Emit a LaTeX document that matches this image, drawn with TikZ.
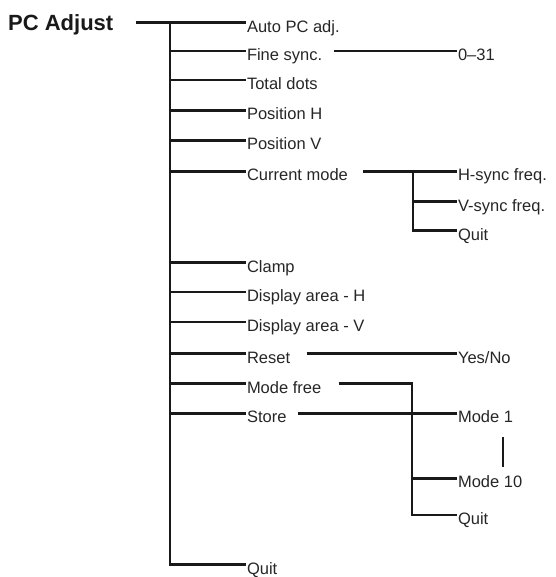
\documentclass[tikz,border=0pt]{standalone}
\usepackage{fontspec}
\setmainfont{Liberation Sans}
\usepackage{tikz}

\begin{document}
\begin{tikzpicture}[x=1pt, y=-1pt, font=\fontsize{16.5}{18}\selectfont,
  t/.style={anchor=west, inner xsep=1.5pt, inner ysep=0pt, outer sep=0pt, text height=19pt, text depth=0pt, text=black!85},
  ln/.style={line width=2.8pt, draw=black!90}]
 \useasboundingbox (0,0) rectangle (555,577);
 % Root and main branch
 \node[anchor=west, inner sep=0pt, text height=16pt, text depth=0pt, font=\fontsize{22}{24}\selectfont\bfseries, text=black!90] (root) at (8,22.7) {PC Adjust};
 \node[t] (auto) at (245.5,22.7) {Auto PC adj.};
 \node[t] (fine) at (245.5,51) {Fine sync.};
 \node[t] (total) at (245.5,80) {Total dots};
 \node[t] (posh) at (245.5,110.5) {Position H};
 \node[t] (posv) at (245.5,140.5) {Position V};
 \node[t] (cur) at (245.5,171.5) {Current mode};
 \node[t] (clamp) at (245.5,262.5) {Clamp};
 \node[t] (dah) at (245.5,292) {Display area - H};
 \node[t] (dav) at (245.5,322) {Display area - V};
 \node[t] (reset) at (245.5,353.5) {Reset};
 \node[t] (mfree) at (245.5,383.5) {Mode free};
 \node[t] (store) at (245.5,413.3) {Store};
 \node[t] (quit) at (245.5,564.5) {Quit};
 \coordinate (tr) at (170,0);
 \draw[ln] ([xshift=22]root.east) -- (auto.west);
 \draw[ln] (tr |- auto.west) |- (quit.west);
 \draw[ln] (tr |- fine.west) -- (fine.west); \draw[ln] (tr |- total.west) -- (total.west);
 \draw[ln] (tr |- posh.west) -- (posh.west); \draw[ln] (tr |- posv.west) -- (posv.west);
 \draw[ln] (tr |- cur.west) -- (cur.west); \draw[ln] (tr |- clamp.west) -- (clamp.west);
 \draw[ln] (tr |- dah.west) -- (dah.west); \draw[ln] (tr |- dav.west) -- (dav.west);
 \draw[ln] (tr |- reset.west) -- (reset.west); \draw[ln] (tr |- mfree.west) -- (mfree.west);
 \draw[ln] (tr |- store.west) -- (store.west);
 % Fine sync
 \node[t] (r031) at (456.5,51) {0–31};
 \draw[ln] ([xshift=10]fine.east) -- (r031.west);
 % Current mode
 \node[t] (hs) at (456.5,171.5) {H-sync freq.};
 \node[t] (vs) at (456.5,201.7) {V-sync freq.};
 \node[t] (cq) at (456.5,230.7) {Quit};
 \coordinate (cs) at (413,0);
 \draw[ln] ([xshift=14]cur.east) -- (hs.west);
 \draw[ln] (cs |- hs.west) |- (cq.west); \draw[ln] (cs |- vs.west) -- (vs.west);
 % Reset
 \node[t] (yn) at (456.5,353.5) {Yes/No};
 \draw[ln] ([xshift=15]reset.east) -- (yn.west);
 % Mode free / Store
 \node[t] (m1) at (456.5,413.3) {Mode 1};
 \node[t] (m10) at (456.5,478.3) {Mode 10};
 \node[t] (mq) at (456.5,515) {Quit};
 \coordinate (ms) at (412,0);
 \draw[ln] ([xshift=16]mfree.east) -| (ms |- mq.west) -- (mq.west);
 \draw[ln] (ms |- m10.west) -- (m10.west);
 \draw[ln] ([xshift=10]store.east) -- (m1.west);
 \draw[ln] (503,437) -- (503,467);
\end{tikzpicture}
\end{document}
